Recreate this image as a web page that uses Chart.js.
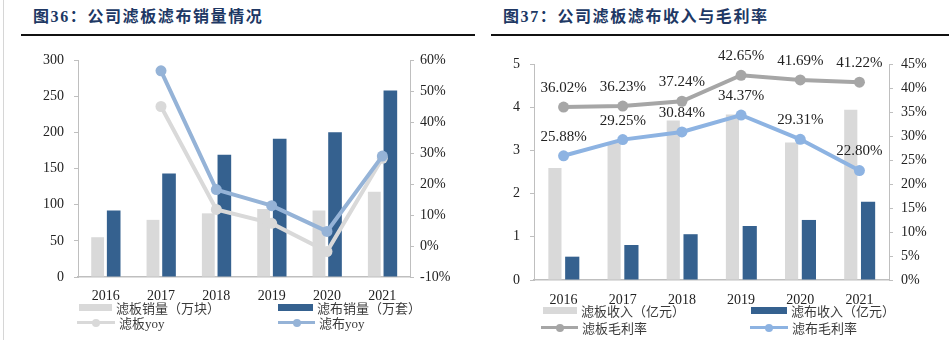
<!DOCTYPE html>
<html><head><meta charset="utf-8">
<script src="https://cdn.jsdelivr.net/npm/chart.js@4.4.1/dist/chart.umd.min.js"></script>
<style>
body{margin:0;width:950px;height:340px;background:#fff;position:relative;overflow:hidden;font-family:"Liberation Serif","Noto Sans CJK SC",serif;}
.title{position:absolute;top:5px;font-family:"Liberation Serif","Noto Sans CJK SC",sans-serif;font-weight:bold;font-size:16px;color:#203864;letter-spacing:1.6px;white-space:nowrap;line-height:24px;}
.rule{position:absolute;top:34px;height:2px;background:#111;}
.vline{position:absolute;left:3px;top:0;width:1px;height:340px;background:#d6d6d6;}
canvas{position:absolute;top:40px;}
.leg{position:absolute;height:16px;display:flex;align-items:center;font-size:13px;color:#3a3a3a;white-space:nowrap;font-family:"Liberation Serif","Noto Sans CJK SC",serif;}
.mk{position:relative;display:inline-block;height:16px;margin-right:4px;}
</style>
</head><body>
<div class="vline"></div>
<div class="title" style="left:33px">图36：公司滤板滤布销量情况</div>
<div class="rule" style="left:21px;width:454px"></div>
<div class="title" style="left:503px">图37：公司滤板滤布收入与毛利率</div>
<div class="rule" style="left:491px;width:458px"></div>
<canvas id="c1" width="475" height="300" style="left:0"></canvas>
<canvas id="c2" width="475" height="300" style="left:475px"></canvas>
<div id="legends"></div>
<script>
// ---- data ----
const years = ['2016', '2017', '2018', '2019', '2020', '2021'];
// chart 1
const plateSales = [55, 79, 88, 94, 92, 118];       // 滤板销量（万块）
const clothSales = [92, 143, 169, 191, 200, 258];   // 滤布销量（万套）
const plateYoy = [null, 45, 11.8, 7.3, -1.8, 28.3]; // 滤板yoy (%)
const clothYoy = [null, 56.5, 18.2, 13.0, 4.7, 29.0]; // 滤布yoy (%)
const c1LeftTicks = [0, 300, 50];
const c1RightTicks = [-10, 60, 10];
// chart 2
const plateRevenue = [2.59, 3.17, 3.69, 3.83, 3.18, 3.94]; // 滤板收入（亿元）
const clothRevenue = [0.54, 0.81, 1.06, 1.25, 1.39, 1.81]; // 滤布收入（亿元）
const plateMargin = [36.02, 36.23, 37.24, 42.65, 41.69, 41.22]; // 滤板毛利率 (%)
const clothMargin = [25.88, 29.25, 30.84, 34.37, 29.31, 22.80]; // 滤布毛利率 (%)
const c2LeftTicks = [0, 5, 1];
const c2RightTicks = [0, 45, 5];

const AXIS = '#BFBFBF';
const TXT = '#222';
const tickFont = {family: '"Liberation Serif", serif', size: 14};

const pointLabels = {
  id: 'pointLabels',
  afterDatasetsDraw(chart) {
    const ctx = chart.ctx;
    chart.data.datasets.forEach((ds, i) => {
      if (!ds.showLabels) return;
      const meta = chart.getDatasetMeta(i);
      meta.data.forEach((pt, j) => {
        const v = ds.data[j];
        if (v == null) return;
        ctx.save();
        ctx.font = '15px "Liberation Serif", serif';
        ctx.fillStyle = TXT;
        ctx.textAlign = 'center';
        ctx.textBaseline = 'middle';
        ctx.fillText(v.toFixed(2) + '%', pt.x, pt.y - 19);
        ctx.restore();
      });
    });
  }
};

function yScale(pos, t, width, pad, fmt) {
  return {
    position: pos, min: t[0], max: t[1],
    ticks: {stepSize: t[2], font: tickFont, color: TXT, padding: pad, callback: fmt},
    grid: {drawOnChartArea: false, drawTicks: true, tickLength: 4, color: AXIS},
    border: {color: AXIS, width: 1},
    afterFit(s) { s.width = width; }
  };
}
function xScale(height, pad) {
  return {
    grid: {display: false, drawTicks: false},
    border: {color: AXIS, width: 1.5},
    ticks: {font: tickFont, color: TXT, padding: pad, maxRotation: 0, autoSkip: false},
    afterFit(s) { s.height = height; }
  };
}
const pct = v => v + '%';

const chart1 = new Chart(document.getElementById('c1'), {
  data: {
    labels: years,
    datasets: [
      {type: 'bar', label: '滤板销量（万块）', data: plateSales, backgroundColor: '#D9D9D9', yAxisID: 'y', order: 3,
        categoryPercentage: 0.58, barPercentage: 0.8},
      {type: 'bar', label: '滤布销量（万套）', data: clothSales, backgroundColor: '#35618F', yAxisID: 'y', order: 3,
        categoryPercentage: 0.58, barPercentage: 0.85},
      {type: 'line', label: '滤板yoy', data: plateYoy, borderColor: '#D9D9D9', backgroundColor: '#D9D9D9', borderWidth: 4,
        pointRadius: 5.5, pointBorderWidth: 0, yAxisID: 'y1', order: 2},
      {type: 'line', label: '滤布yoy', data: clothYoy, borderColor: '#95B3D7', backgroundColor: '#95B3D7', borderWidth: 4,
        pointRadius: 5.5, pointBorderWidth: 0, yAxisID: 'y1', order: 1}
    ]
  },
  options: {
    responsive: false, animation: false,
    layout: {padding: {top: 20, left: 0, right: 0, bottom: 0}},
    plugins: {legend: {display: false}, tooltip: {enabled: false}},
    scales: {
      x: xScale(63, 11),
      y: yScale('left', c1LeftTicks, 78, 10),
      y1: yScale('right', c1RightTicks, 65, 6, pct)
    }
  }
});

const chart2 = new Chart(document.getElementById('c2'), {
  data: {
    labels: years,
    datasets: [
      {type: 'bar', label: '滤板收入（亿元）', data: plateRevenue, backgroundColor: '#D9D9D9', yAxisID: 'y', order: 3,
        categoryPercentage: 0.585, barPercentage: 0.76},
      {type: 'bar', label: '滤布收入（亿元）', data: clothRevenue, backgroundColor: '#35618F', yAxisID: 'y', order: 3,
        categoryPercentage: 0.585, barPercentage: 0.82},
      {type: 'line', label: '滤板毛利率', data: plateMargin, borderColor: '#A6A6A6', backgroundColor: '#A6A6A6', borderWidth: 4,
        pointRadius: 5.5, pointBorderWidth: 0, yAxisID: 'y1', order: 2, showLabels: true},
      {type: 'line', label: '滤布毛利率', data: clothMargin, borderColor: '#8DB3E2', backgroundColor: '#8DB3E2', borderWidth: 4,
        pointRadius: 5.5, pointBorderWidth: 0, yAxisID: 'y1', order: 1, showLabels: true}
    ]
  },
  options: {
    responsive: false, animation: false,
    layout: {padding: {top: 24, left: 0, right: 0, bottom: 0}},
    plugins: {legend: {display: false}, tooltip: {enabled: false}},
    scales: {
      x: xScale(60, 12),
      y: yScale('left', c2LeftTicks, 59, 10),
      y1: yScale('right', c2RightTicks, 61, 8, pct)
    }
  },
  plugins: [pointLabels]
});

// ---- HTML legends built from the chart datasets ----
const legendSlots = [
  {chart: chart1, pos: [[79, 299.5, 33], [278, 299.5, 35], [77, 314.5, 38], [278, 314.5, 37]]},
  {chart: chart2, pos: [[543, 302.5, 34], [751, 302.5, 36], [541, 319.5, 37], [750, 319.5, 38]]}
];
const host = document.getElementById('legends');
legendSlots.forEach(({chart, pos}) => {
  chart.data.datasets.forEach((ds, i) => {
    const [x, y, w] = pos[i];
    const item = document.createElement('div');
    item.className = 'leg';
    item.style.left = x + 'px';
    item.style.top = y + 'px';
    const mk = document.createElement('span');
    mk.className = 'mk';
    mk.style.width = w + 'px';
    if (ds.type === 'bar') {
      mk.innerHTML = `<span style="position:absolute;left:0;top:4px;width:${w}px;height:7px;background:${ds.backgroundColor}"></span>`;
    } else {
      mk.innerHTML = `<span style="position:absolute;left:0;top:6.5px;width:${w}px;height:3px;background:${ds.borderColor}"></span>` +
        `<span style="position:absolute;left:${w / 2 - 4}px;top:4px;width:8px;height:8px;border-radius:50%;background:${ds.borderColor}"></span>`;
    }
    const tx = document.createElement('span');
    tx.textContent = ds.label;
    item.appendChild(mk);
    item.appendChild(tx);
    host.appendChild(item);
  });
});
</script>
</body></html>
